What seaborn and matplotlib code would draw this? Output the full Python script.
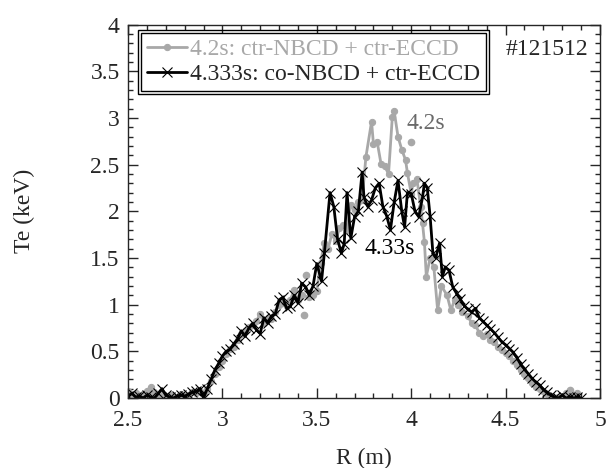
import numpy as np
import pandas as pd
import matplotlib
matplotlib.use("Agg")
import matplotlib.pyplot as plt
from matplotlib.patches import Rectangle
from matplotlib.ticker import MultipleLocator
import seaborn as sns

# 4.333 s profile (co-NBCD + ctr-ECCD)
r_433 = [2.50, 2.52, 2.54, 2.56, 2.58, 2.60, 2.62, 2.64, 2.66, 2.68, 2.70, 2.72, 2.74, 2.76, 2.78,
         2.80, 2.82, 2.84, 2.86, 2.88, 2.90, 2.92, 2.94, 2.96, 2.98, 3.00, 3.02, 3.04, 3.06, 3.08,
         3.10, 3.12, 3.14, 3.16, 3.18, 3.20, 3.22, 3.24, 3.26, 3.28, 3.30, 3.32, 3.34, 3.36, 3.38,
         3.40, 3.42, 3.44, 3.46, 3.48, 3.50, 3.525, 3.54, 3.57, 3.59, 3.61, 3.63, 3.645, 3.66, 3.68,
         3.70, 3.72, 3.74, 3.75, 3.77, 3.79, 3.81, 3.83, 3.85, 3.87, 3.89, 3.91, 3.93, 3.95, 3.965,
         3.98, 4.00, 4.02, 4.04, 4.06, 4.07, 4.085, 4.10, 4.115, 4.13, 4.15, 4.165, 4.18, 4.20, 4.22,
         4.24, 4.26, 4.28, 4.30, 4.32, 4.34, 4.36, 4.38, 4.40, 4.42, 4.44, 4.46, 4.48, 4.50, 4.52,
         4.54, 4.56, 4.58, 4.60, 4.62, 4.64, 4.66, 4.68, 4.70, 4.72, 4.74, 4.76, 4.78, 4.80, 4.82,
         4.84, 4.86, 4.88, 4.90]
te_433 = [0.02, 0.05, 0.01, 0.02, 0.00, 0.03, 0.01, 0.00, 0.05, 0.10, 0.03, 0.01, 0.00, 0.02, 0.03,
          0.02, 0.04, 0.06, 0.07, 0.10, 0.00, 0.10, 0.20, 0.30, 0.37, 0.45, 0.50, 0.52, 0.58, 0.63,
          0.72, 0.66, 0.75, 0.80, 0.73, 0.69, 0.86, 0.80, 0.88, 0.90, 1.05, 1.08, 0.96, 0.98, 1.10,
          1.02, 1.23, 1.19, 1.10, 1.20, 1.44, 1.25, 1.55, 2.20, 2.05, 1.70, 1.55, 1.65, 2.20, 1.71,
          1.94, 2.00, 2.42, 2.15, 2.05, 2.12, 2.25, 2.30, 2.05, 1.95, 1.80, 2.10, 2.33, 2.00, 1.83,
          2.20, 2.19, 2.00, 1.94, 2.15, 2.30, 2.25, 1.95, 1.55, 1.50, 1.66, 1.30, 1.40, 1.37, 1.19,
          1.12, 1.06, 0.99, 0.95, 0.92, 0.96, 0.86, 0.82, 0.78, 0.74, 0.70, 0.65, 0.60, 0.57, 0.53,
          0.49, 0.43, 0.36, 0.31, 0.26, 0.21, 0.17, 0.14, 0.09, 0.06, 0.03, 0.01, 0.00, 0.03, 0.00,
          0.01, 0.00, 0.01, 0.00]

# 4.2 s profile (ctr-NBCD + ctr-ECCD)
r_42 = [2.50, 2.52, 2.54, 2.56, 2.58, 2.60, 2.62, 2.64, 2.66, 2.68, 2.70, 2.72, 2.74, 2.76, 2.78,
        2.80, 2.82, 2.84, 2.86, 2.88, 2.90, 2.92, 2.94, 2.96, 2.98, 3.00, 3.02, 3.04, 3.06, 3.08,
        3.10, 3.12, 3.14, 3.16, 3.18, 3.20, 3.22, 3.24, 3.26, 3.28, 3.30, 3.32, 3.34, 3.36, 3.38,
        3.40, 3.42, 3.46, 3.48, 3.50, 3.52, 3.54, 3.56, 3.58, 3.60, 3.62, 3.64, 3.66, 3.68, 3.70,
        3.72, 3.74, 3.76, 3.79, 3.80, 3.82, 3.84, 3.86, 3.88, 3.90, 3.91, 3.93, 3.95, 3.97, 3.98,
        4.00, 4.01, 4.03, 4.05, 4.06, 4.07, 4.08, 4.10, 4.12, 4.14, 4.16, 4.19, 4.21, 4.23, 4.25,
        4.27, 4.30, 4.32, 4.34, 4.36, 4.38, 4.40, 4.42, 4.44, 4.46, 4.48, 4.50, 4.52, 4.54, 4.56,
        4.58, 4.60, 4.62, 4.64, 4.66, 4.68, 4.70, 4.72, 4.74, 4.76, 4.78, 4.80, 4.82, 4.86, 4.88]
te_42 = [0.08, 0.03, 0.05, 0.02, 0.04, 0.08, 0.12, 0.06, 0.02, 0.04, 0.01, 0.03, 0.02, 0.00, 0.04,
         0.01, 0.03, 0.06, 0.05, 0.08, 0.05, 0.10, 0.18, 0.26, 0.33, 0.40, 0.47, 0.52, 0.55, 0.62,
         0.68, 0.72, 0.76, 0.78, 0.82, 0.90, 0.80, 0.86, 0.85, 0.92, 1.00, 1.02, 0.98, 1.05, 1.16,
         1.05, 1.10, 1.08, 1.10, 1.15, 1.45, 1.66, 1.60, 1.76, 1.68, 1.82, 1.85, 1.80, 2.07, 2.01,
         2.10, 2.12, 2.58, 2.96, 2.72, 2.74, 2.51, 2.48, 2.40, 3.01, 3.07, 2.80, 2.66, 2.55, 2.41,
         2.19, 2.30, 2.35, 2.05, 1.87, 1.67, 1.30, 1.50, 1.40, 0.94, 1.20, 1.10, 0.94, 1.05, 1.00,
         0.92, 0.88, 0.80, 0.78, 0.70, 0.66, 0.68, 0.62, 0.60, 0.55, 0.51, 0.48, 0.45, 0.40, 0.35,
         0.30, 0.26, 0.21, 0.16, 0.12, 0.10, 0.07, 0.04, 0.02, 0.00, 0.01, 0.00, 0.05, 0.02, 0.05]

# scattered 4.2 s points lying off the line
r_42_extra = [3.43, 3.445, 4.00, 4.84]
te_42_extra = [0.89, 1.32, 2.74, 0.09]

label_42 = "4.2s: ctr-NBCD + ctr-ECCD"
label_433 = "4.333s: co-NBCD + ctr-ECCD"
gray = "#a8a8a8"

sns.set_style("ticks")
plt.rcParams["font.family"] = ["Liberation Serif", "DejaVu Serif"]
plt.rcParams["font.size"] = 17

fig = plt.figure(figsize=(6.11, 4.68), dpi=100)
ax = fig.add_axes([0.2095, 0.1496, 0.7725, 0.798])

df42 = pd.DataFrame({"R": r_42, "Te": te_42})
df433 = pd.DataFrame({"R": r_433, "Te": te_433})

sns.lineplot(data=df42, x="R", y="Te", ax=ax, color=gray, lw=2, marker="o", ms=4.5,
             mec=gray, mfc=gray, sort=False, estimator=None, label=label_42)
ax.plot(r_42_extra, te_42_extra, "o", color=gray, ms=4.5, mec=gray)
sns.lineplot(data=df433, x="R", y="Te", ax=ax, color="black", lw=2, marker="x", ms=6.5,
             mec="black", mew=0.8, sort=False, estimator=None, label=label_433)

ax.set_xlim(2.5, 5)
ax.set_ylim(0, 4)
ax.xaxis.set_major_locator(MultipleLocator(0.5))
ax.xaxis.set_minor_locator(MultipleLocator(0.1))
ax.yaxis.set_major_locator(MultipleLocator(0.5))
ax.yaxis.set_minor_locator(MultipleLocator(0.1))
ax.xaxis.set_major_formatter(plt.FuncFormatter(lambda v, p: f"{v:g}"))
ax.yaxis.set_major_formatter(plt.FuncFormatter(lambda v, p: f"{v:g}"))
ax.tick_params(which="both", direction="in", top=True, right=True, width=1, labelsize=17)
ax.tick_params(which="major", length=7)
ax.tick_params(which="minor", length=3.5)
ax.tick_params(axis="x", pad=9)
ax.tick_params(axis="y", pad=6)
for s in ax.spines.values():
    s.set_linewidth(1)

ax.set_xlabel("R (m)", fontsize=17, labelpad=12)
ax.set_ylabel("Te (keV)", fontsize=17, labelpad=40)

ax.text(0.975, 0.932, "#121512", transform=ax.transAxes, ha="right", va="center", fontsize=17)
ax.text(4.08, 2.94, "4.2s", color="#6a6a6a", ha="center", va="center", fontsize=17)
ax.text(3.886, 1.6, "4.33s", color="black", ha="center", va="center", fontsize=17)

leg = ax.legend(loc="upper left", bbox_to_anchor=(0.028, 0.978), frameon=True, fancybox=False,
                edgecolor="black", framealpha=1, handlelength=1.7, handletextpad=0.1,
                borderpad=0.25, labelspacing=0.15, borderaxespad=0, fontsize=17)
leg.get_frame().set_linewidth(1)
leg.get_texts()[0].set_color(gray)

fig.canvas.draw()
bb = leg.get_window_extent()
ax.add_artist(Rectangle((bb.x0 - 3, bb.y0 - 3), bb.width + 6, bb.height + 6, transform=None,
                        fill=False, edgecolor="black", lw=1, zorder=10))

fig.savefig("out.png", dpi=100)
